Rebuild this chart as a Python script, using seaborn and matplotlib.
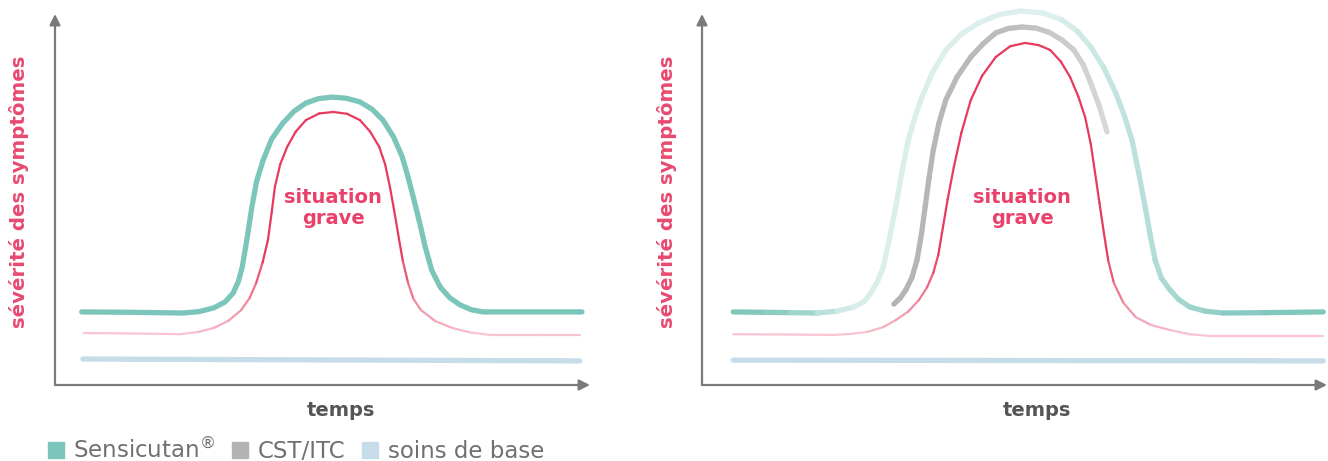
import numpy as np
import matplotlib
matplotlib.use("Agg")
import matplotlib.pyplot as plt
from matplotlib.collections import LineCollection
from matplotlib.colors import LinearSegmentedColormap
from matplotlib.lines import Line2D
import seaborn as sns

# panneau gauche : Sensicutan
T_SENS_G = [5.0, 14.0, 23.9, 27.0, 29.7, 31.8, 33.3, 34.3, 35.0, 35.9, 36.8, 37.7, 38.9,
            40.5, 42.6, 44.7, 46.9, 49.3, 51.8, 54.4, 57.0, 59.3, 61.3, 63.3, 64.9, 66.0,
            67.1, 68.2, 69.2, 70.4, 72.0, 73.8, 75.7, 77.8, 80.0, 90.0, 98.5]
S_SENS_G = [19.7, 19.6, 19.4, 19.8, 20.8, 22.4, 24.8, 28.0, 31.8, 39.5, 48.0, 55.0, 60.6,
            66.3, 70.6, 73.8, 76.0, 77.2, 77.6, 77.3, 76.3, 74.3, 71.4, 66.8, 61.5, 56.0,
            49.9, 43.5, 37.2, 31.0, 26.4, 23.5, 21.6, 20.3, 19.7, 19.7, 19.7]
T_GRAVE_G = [5.4, 14.0, 23.4, 26.8, 29.7, 32.4, 34.8, 36.4, 37.6, 38.8, 39.8, 40.5, 41.1,
             42.1, 43.4, 45.0, 46.9, 49.4, 52.0, 54.6, 57.0, 58.9, 60.6, 61.7, 62.6, 63.4,
             64.1, 65.0, 66.0, 67.0, 68.4, 71.0, 74.2, 77.5, 81.3, 90.0, 98.1]
S_GRAVE_G = [14.0, 13.9, 13.7, 14.3, 15.4, 17.3, 20.2, 23.5, 27.5, 33.0, 39.1, 46.5, 53.4,
             59.5, 64.2, 68.3, 71.4, 73.2, 73.6, 73.1, 71.4, 68.3, 64.2, 59.5, 53.4, 47.0,
             41.0, 33.5, 27.5, 23.2, 20.2, 17.3, 15.4, 14.2, 13.5, 13.5, 13.5]
T_BASE_G = [5.2, 98.1]
S_BASE_G = [7.0, 6.5]

# panneau droit : CST/ITC
T_SENS_D = [5.0, 10.0, 14.0, 18.4, 21.6, 24.3, 26.0, 27.0, 28.1, 29.0, 30.0, 31.0, 32.0,
            33.0, 34.0, 35.0, 36.8, 39.0, 41.5, 44.3, 47.6, 51.0, 54.5, 57.6, 60.1, 62.2,
            64.3, 66.2, 67.6, 68.8, 69.9, 70.9, 71.7, 72.5, 73.5, 74.9, 76.3, 78.1, 80.5,
            83.4, 90.0, 99.4]
S_SENS_D = [19.7, 19.6, 19.5, 19.4, 19.9, 21.0, 22.6, 24.8, 28.0, 31.8, 39.5, 48.0, 57.5,
            66.0, 71.8, 76.8, 84.0, 90.3, 94.6, 97.6, 99.9, 100.8, 100.3, 98.4, 95.3, 91.1,
            85.5, 78.7, 72.5, 66.0, 57.0, 48.0, 40.5, 33.7, 28.8, 25.6, 23.0, 21.0, 19.9,
            19.4, 19.5, 19.7]
T_CST_D = [30.7, 31.7, 32.6, 33.6, 34.4, 35.1, 35.7, 36.3, 37.0, 37.9, 39.0, 40.8, 43.0,
           45.0, 47.0, 49.0, 51.2, 53.4, 55.5, 57.6, 59.5, 61.0, 62.2, 63.6, 64.8]
S_CST_D = [21.8, 23.4, 25.6, 29.0, 33.7, 40.5, 48.0, 55.5, 63.3, 70.5, 76.8, 83.0, 88.4,
           92.0, 94.9, 96.1, 96.5, 96.2, 95.1, 93.0, 90.3, 86.3, 81.4, 75.0, 68.2]
T_GRAVE_D = [5.0, 14.0, 21.1, 24.0, 26.4, 29.0, 31.0, 33.0, 34.7, 36.0, 37.0, 37.8, 38.4,
             39.3, 40.3, 41.5, 43.0, 44.8, 47.0, 49.3, 51.7, 53.9, 55.7, 57.4, 58.9, 60.2,
             61.3, 62.2, 62.9, 63.6, 64.3, 65.0, 65.9, 67.4, 69.4, 71.8, 74.9, 78.0, 81.4,
             90.0, 99.4]
S_GRAVE_D = [13.7, 13.6, 13.5, 13.8, 14.3, 15.6, 17.5, 19.8, 22.9, 26.3, 30.2, 35.0, 41.0,
             50.0, 58.8, 68.0, 76.8, 83.3, 88.4, 91.3, 92.2, 91.6, 90.3, 87.2, 83.0, 77.8,
             72.2, 65.0, 57.1, 49.0, 41.0, 33.5, 27.5, 22.2, 18.3, 16.2, 14.8, 13.7, 13.2,
             13.2, 13.2]
T_BASE_D = [5.0, 99.4]
S_BASE_D = [6.7, 6.5]

LEGENDE = [r"Sensicutan$^{\circledR}$", "CST/ITC", "soins de base"]
YLABEL = "sévérité des symptômes"
XLABEL = "temps"
NOTE = "situation\ngrave"

TEAL = "#7cc5bb"
GRIS = "#b3b3b3"
BLEU = "#c6dde9"
ROUGE = "#e8395f"
AXE = "#7a7a7a"

sns.set_theme(style="white")
plt.rcParams["font.family"] = ["DejaVu Sans"]

cm_rouge = LinearSegmentedColormap.from_list("rouge", ["#f9c5d1", "#f08aa1", ROUGE])
cm_teal = LinearSegmentedColormap.from_list("teal", ["#e3f2f0", TEAL])
cm_gris = LinearSegmentedColormap.from_list("gris", ["#dadada", GRIS])


def ligne_degrade(ax, t, s, cmap, poids, lw):
    pts = np.column_stack([t, s])
    segs = np.stack([pts[:-1], pts[1:]], axis=1)
    lc = LineCollection(segs, colors=cmap(poids), linewidths=lw,
                        capstyle="round", joinstyle="round", clip_on=False)
    ax.add_collection(lc)


def mid(v):
    v = np.asarray(v, dtype=float)
    return (v[:-1] + v[1:]) / 2


def poids_rouge(s):
    return np.clip((mid(s) - 14.0) / 22.0, 0, 1) ** 0.7


def preparer_axe(ax, x_note):
    ax.set_xlim(0, 100)
    ax.set_ylim(0, 100)
    ax.axis("off")
    kw = dict(arrowstyle="-|>", color=AXE, lw=1.6, mutation_scale=16, shrinkA=0, shrinkB=0)
    ax.annotate("", xy=(1, 0), xytext=(0, 0), xycoords="axes fraction", arrowprops=kw)
    ax.annotate("", xy=(0, 1), xytext=(0, 0), xycoords="axes fraction", arrowprops=kw)
    ax.text(x_note, 47.7, NOTE, ha="center", va="center", fontsize=14, fontweight="bold",
            color="#e8416a", linespacing=1.15)


fig = plt.figure(figsize=(13.28, 4.61), dpi=100)
W, H = 1328, 461
ax1 = fig.add_axes([55 / W, (H - 385) / H, 535 / W, 371 / H])
ax2 = fig.add_axes([702 / W, (H - 385) / H, 625 / W, 371 / H])

# gauche
preparer_axe(ax1, 52)
sns.lineplot(x=T_BASE_G, y=S_BASE_G, ax=ax1, color=BLEU, lw=3.8, sort=False,
             estimator=None, solid_capstyle="round")
ligne_degrade(ax1, T_GRAVE_G, S_GRAVE_G, cm_rouge, poids_rouge(S_GRAVE_G), 1.6)
sns.lineplot(x=T_SENS_G, y=S_SENS_G, ax=ax1, color=TEAL, lw=3.8, sort=False,
             estimator=None, solid_capstyle="round", solid_joinstyle="round")

# droite
preparer_axe(ax2, 51.2)
sns.lineplot(x=T_BASE_D, y=S_BASE_D, ax=ax2, color=BLEU, lw=3.8, sort=False,
             estimator=None, solid_capstyle="round")
ligne_degrade(ax2, T_GRAVE_D, S_GRAVE_D, cm_rouge, poids_rouge(S_GRAVE_D), 1.6)
ligne_degrade(ax2, T_CST_D, S_CST_D, cm_gris,
              np.interp(mid(T_CST_D), [30, 50, 66], [1.0, 0.75, 0.0]), 3.8)
ligne_degrade(ax2, T_SENS_D, S_SENS_D, cm_teal,
              np.interp(mid(T_SENS_D), [5, 14, 24, 55, 70, 85, 99],
                        [1.0, 0.8, 0.1, 0.05, 0.4, 0.85, 1.0]), 3.8)

for x in (19, 667):
    fig.text(x / W, 1 - 192 / H, YLABEL, rotation=90, ha="center", va="center",
             fontsize=14.2, fontweight="bold", color="#e84a70")
for x in (341, 1037):
    fig.text(x / W, 1 - 410 / H, XLABEL, ha="center", va="center",
             fontsize=14, fontweight="bold", color="#555555")

handles = [Line2D([], [], marker="s", ls="", markersize=11, color=c) for c in (TEAL, GRIS, BLEU)]
fig.legend(handles, LEGENDE, loc="center left", bbox_to_anchor=(48 / W, 1 - 450 / H),
           ncol=3, frameon=False, fontsize=16.5, handlelength=0.7, handletextpad=0.4,
           columnspacing=0.75, borderpad=0, borderaxespad=0, labelcolor="#707070")

fig.savefig("out.png", dpi=100)
